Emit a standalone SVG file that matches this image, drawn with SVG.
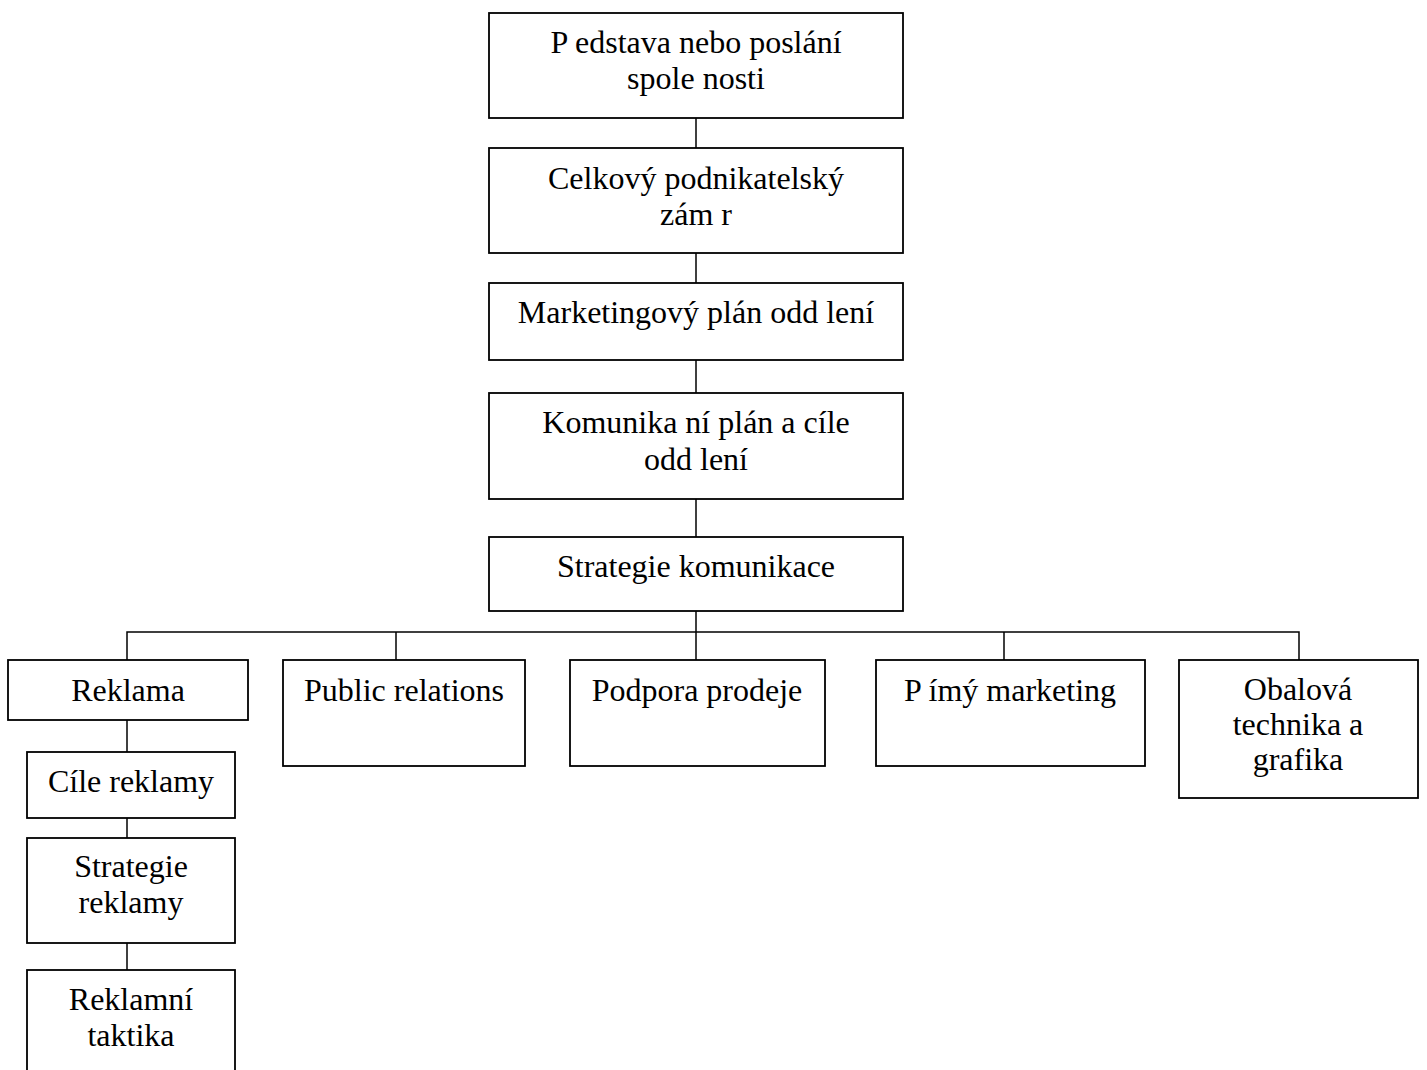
<svg xmlns="http://www.w3.org/2000/svg" width="1427" height="1070" viewBox="0 0 1427 1070">
<style>
.box{fill:#fff;stroke:#000;stroke-width:1.8}
.c{stroke:#000;stroke-width:1.5;fill:none}
text{font-family:"Liberation Serif","Times New Roman",serif;font-size:32px;fill:#000;text-anchor:middle}
</style>
<rect width="1427" height="1070" fill="#fff"/>
<g id="connectors">
<line class="c" x1="696" y1="118" x2="696" y2="148"/>
<line class="c" x1="696" y1="253" x2="696" y2="283"/>
<line class="c" x1="696" y1="360" x2="696" y2="393"/>
<line class="c" x1="696" y1="499" x2="696" y2="537"/>
<line class="c" x1="696" y1="611" x2="696" y2="660"/>
<polyline class="c" points="127,660 127,632 1299,632 1299,660"/>
<line class="c" x1="396" y1="632" x2="396" y2="660"/>
<line class="c" x1="1004" y1="632" x2="1004" y2="660"/>
<line class="c" x1="127" y1="720" x2="127" y2="752"/>
<line class="c" x1="127" y1="818" x2="127" y2="838"/>
<line class="c" x1="127" y1="943" x2="127" y2="970"/>
</g>
<g id="n1"><rect class="box" x="489" y="13" width="414" height="105"/><text x="696" y="53">P edstava nebo poslání</text><text x="696" y="89">spole nosti</text></g>
<g id="n2"><rect class="box" x="489" y="148" width="414" height="105"/><text x="696" y="189">Celkový podnikatelský</text><text x="696" y="225">zám r</text></g>
<g id="n3"><rect class="box" x="489" y="283" width="414" height="77"/><text x="696" y="323">Marketingový plán odd lení</text></g>
<g id="n4"><rect class="box" x="489" y="393" width="414" height="106"/><text x="696" y="433">Komunika ní plán a cíle</text><text x="696" y="470">odd lení</text></g>
<g id="n5"><rect class="box" x="489" y="537" width="414" height="74"/><text x="696" y="577">Strategie komunikace</text></g>
<g id="n6"><rect class="box" x="8" y="660" width="240" height="60"/><text x="128" y="701">Reklama</text></g>
<g id="n7"><rect class="box" x="283" y="660" width="242" height="106"/><text x="404" y="701">Public relations</text></g>
<g id="n8"><rect class="box" x="570" y="660" width="255" height="106"/><text x="697" y="701">Podpora prodeje</text></g>
<g id="n9"><rect class="box" x="876" y="660" width="269" height="106"/><text x="1010" y="701">P ímý marketing</text></g>
<g id="n10"><rect class="box" x="1179" y="660" width="239" height="138"/><text x="1298" y="700">Obalová</text><text x="1298" y="735">technika a</text><text x="1298" y="770">grafika</text></g>
<g id="n11"><rect class="box" x="27" y="752" width="208" height="66"/><text x="131" y="792">Cíle reklamy</text></g>
<g id="n12"><rect class="box" x="27" y="838" width="208" height="105"/><text x="131" y="877">Strategie</text><text x="131" y="913">reklamy</text></g>
<g id="n13"><rect class="box" x="27" y="970" width="208" height="115"/><text x="131" y="1010">Reklamní</text><text x="131" y="1046">taktika</text></g>
</svg>
